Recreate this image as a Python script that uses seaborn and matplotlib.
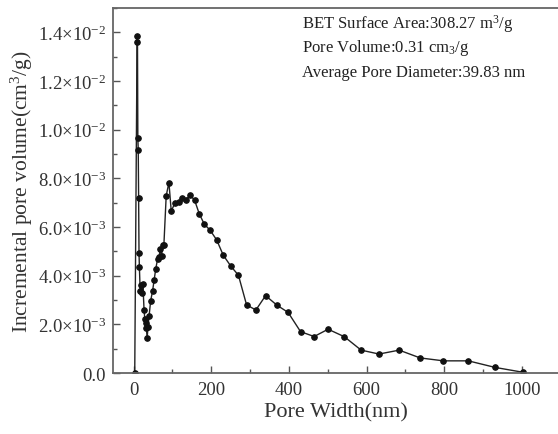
import matplotlib
matplotlib.use("Agg")
import matplotlib.pyplot as plt
from matplotlib.ticker import MultipleLocator, FixedLocator, FixedFormatter
import seaborn as sns
import pandas as pd

# Pore size distribution (DFT) : pore width in nm, incremental pore volume in cm3/g
pore_width = [3, 9, 10, 11, 12, 13, 14, 15, 17, 20, 22, 24, 27, 29, 31, 33, 35,
              37, 40, 44, 49, 53, 57, 62, 66, 68, 72, 75, 78, 84, 91, 97, 107,
              117, 124, 135, 145, 157, 169, 182, 197, 214, 231, 251, 270, 291,
              315, 340, 369, 398, 430, 465, 501, 543, 586, 632, 684, 738, 798,
              862, 931, 1003]
pore_volume = [0.0, 0.01360, 0.01385, 0.00967, 0.00917, 0.00720, 0.00493, 0.00434,
               0.00338, 0.00360, 0.00328, 0.00365, 0.00259, 0.00222, 0.00205,
               0.00183, 0.00142, 0.00190, 0.00235, 0.00297, 0.00338, 0.00383,
               0.00427, 0.00470, 0.00475, 0.00509, 0.00480, 0.00525, 0.00525,
               0.00728, 0.00783, 0.00666, 0.00700, 0.00703, 0.00718, 0.00711,
               0.00732, 0.00711, 0.00655, 0.00612, 0.00587, 0.00547, 0.00484,
               0.00438, 0.00402, 0.00280, 0.00259, 0.00318, 0.00279, 0.00249,
               0.00170, 0.00150, 0.00180, 0.00149, 0.00094, 0.00078, 0.00094,
               0.00062, 0.00050, 0.00050, 0.00023, 0.00003]

y_ticks = [0.0, 0.002, 0.004, 0.006, 0.008, 0.010, 0.012, 0.014]
y_tick_labels = ["0.0", r"$2.0{\times}10^{-3}$", r"$4.0{\times}10^{-3}$",
                 r"$6.0{\times}10^{-3}$", r"$8.0{\times}10^{-3}$",
                 r"$1.0{\times}10^{-2}$", r"$1.2{\times}10^{-2}$",
                 r"$1.4{\times}10^{-2}$"]
x_ticks = [0, 200, 400, 600, 800, 1000]

info_lines = [r"BET Surface Area:308.27 m$^3$/g",
              r"Pore Volume:0.31 cm$_3$/g",
              "Average Pore Diameter:39.83 nm"]

sns.set_theme(style="white")
plt.rcParams["font.family"] = ["Liberation Serif", "DejaVu Serif"]
plt.rcParams["mathtext.fontset"] = "custom"
plt.rcParams["mathtext.rm"] = "Liberation Serif"
plt.rcParams["mathtext.it"] = "Liberation Serif:italic"

df = pd.DataFrame({"width": pore_width, "volume": pore_volume})

fig = plt.figure(figsize=(5.58, 4.35), dpi=100)
ax = fig.add_axes([0.2025, 0.1402, 0.7975, 0.8390])

sns.lineplot(data=df, x="width", y="volume", sort=False, ax=ax,
             color="#222222", linewidth=1.0, marker="o", markersize=4,
             markeredgecolor="#111111", markerfacecolor="#111111")

ax.set_xlim(-53, 1093)
ax.set_ylim(0, 0.015)

ax.xaxis.set_major_locator(FixedLocator(x_ticks))
ax.xaxis.set_minor_locator(MultipleLocator(100))
ax.yaxis.set_major_locator(FixedLocator(y_ticks))
ax.yaxis.set_major_formatter(FixedFormatter(y_tick_labels))
ax.yaxis.set_minor_locator(MultipleLocator(0.001))

ax.tick_params(axis="both", which="major", direction="in", length=5,
               width=1.0, color="#555555", labelsize=13.5, labelcolor="#333333",
               pad=6)
ax.tick_params(axis="y", which="major", pad=5)
ax.tick_params(axis="both", which="minor", direction="in", length=3,
               width=1.0, color="#555555")
ax.tick_params(axis="both", which="both", bottom=True, left=True,
               top=False, right=False)

for side in ["left", "bottom", "top"]:
    ax.spines[side].set_color("#666666")
    ax.spines[side].set_linewidth(1.3)
ax.spines["right"].set_visible(False)

ax.set_xlabel("Pore Width(nm)", fontsize=16, color="#333333", labelpad=3)
ax.set_ylabel(r"Incremental pore volume(cm$^3$/g)", fontsize=15.5,
              color="#333333", labelpad=2)

for i, line in enumerate(info_lines):
    ax.text(0.425, 0.958 - i * 0.066, line, transform=ax.transAxes,
            fontsize=12, color="#222222", va="center", ha="left")

fig.savefig("out.png", dpi=100, facecolor="white")
